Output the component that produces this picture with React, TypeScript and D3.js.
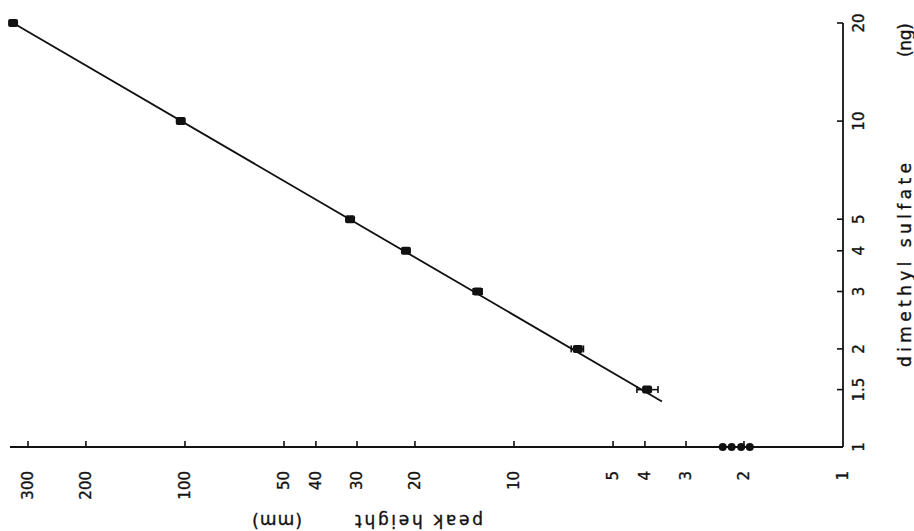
import React from "react";
import * as d3 from "d3";

// dimethyl sulfate amounts (ng) and measured peak heights (mm)
const ngValues = [20, 10, 5, 4, 3, 2, 1.5];
const peakHeights = [333, 103, 31.5, 21.3, 12.9, 6.4, 3.94];
const errLow = [NaN, NaN, NaN, NaN, 12.5, 6.15, 3.65];
const errHigh = [NaN, NaN, NaN, NaN, 13.3, 6.7, 4.23];
// points at 1 ng
const oneNgPeaks = [2.32, 2.18, 2.04, 1.92];
// fitted line end points
const fitPeak = [333, 3.55];
const fitNg = [20, 1.38];
// ticks
const xTicks = [300, 200, 100, 50, 40, 30, 20, 10, 5, 4, 3, 2, 1];
const yTicks = [20, 10, 5, 4, 3, 2, 1.5, 1];

const W = 914;
const H = 531;
const FONT = "DejaVu Sans, sans-serif";

export default function App() {
  const x = d3.scaleLog().domain([1, 300]).range([843, 28]);
  const y = d3.scaleLog().domain([1, 20]).range([447, 23]);
  const line = d3
    .line<number>()
    .x((_, i) => x(fitPeak[i]))
    .y((_, i) => y(fitNg[i]));
  const xAxisY = y(1);
  const yAxisX = x(1);
  const txt = { fill: "#111", stroke: "#111", strokeWidth: 0.35 };
  return (
    <svg
      width={W}
      height={H}
      style={{ position: "absolute", left: 0, top: 0, background: "#fff" }}
      fontFamily={FONT}
    >
      <rect x={0} y={0} width={W} height={H} fill="#fff" />
      {/* axes */}
      <line x1={10} x2={yAxisX} y1={xAxisY} y2={xAxisY} stroke="#111" strokeWidth={1.8} />
      <line x1={yAxisX} x2={yAxisX} y1={xAxisY} y2={y(20)} stroke="#111" strokeWidth={1.8} />
      {xTicks.map((t) => (
        <g key={"xt" + t}>
          {t !== 1 && (
            <line x1={x(t)} x2={x(t)} y1={xAxisY} y2={xAxisY - 6} stroke="#111" strokeWidth={1.6} />
          )}
          <text
            transform={`translate(${x(t)},471) rotate(-90)`}
            textAnchor="end"
            dy="0.35em"
            fontSize={15}
            {...txt}
          >
            {t}
          </text>
        </g>
      ))}
      {yTicks.map((t) => (
        <g key={"yt" + t}>
          {t !== 1 && (
            <line x1={yAxisX} x2={yAxisX - 6} y1={y(t)} y2={y(t)} stroke="#111" strokeWidth={1.6} />
          )}
          <text
            transform={`translate(864,${y(t)}) rotate(-90)`}
            textAnchor="middle"
            fontSize={15}
            {...txt}
          >
            {t}
          </text>
        </g>
      ))}
      {/* axis titles */}
      <text
        transform={`translate(911,265) rotate(-90)`}
        textAnchor="middle"
        fontSize={17}
        textLength={204}
        lengthAdjust="spacing"
        {...txt}
      >
        dimethyl sulfate
      </text>
      <text
        transform={`translate(911,40) rotate(-90)`}
        textAnchor="middle"
        fontSize={17}
        textLength={34}
        lengthAdjust="spacing"
        {...txt}
      >
        (ng)
      </text>
      <text
        transform={`translate(419,515) rotate(180)`}
        textAnchor="middle"
        fontSize={17}
        textLength={128}
        lengthAdjust="spacing"
        {...txt}
      >
        peak height
      </text>
      <text
        transform={`translate(277,515) rotate(180)`}
        textAnchor="middle"
        fontSize={17}
        textLength={50}
        lengthAdjust="spacing"
        {...txt}
      >
        (mm)
      </text>
      {/* fitted line */}
      <path d={line(fitPeak) || ""} fill="none" stroke="#111" strokeWidth={1.8} />
      {/* error bars */}
      {ngValues.map((v, i) =>
        isNaN(errLow[i]) ? null : (
          <g key={"e" + i} stroke="#111" strokeWidth={1.6}>
            <line x1={x(errLow[i])} x2={x(errHigh[i])} y1={y(v)} y2={y(v)} />
            <line x1={x(errLow[i])} x2={x(errLow[i])} y1={y(v) - 3.5} y2={y(v) + 3.5} />
            <line x1={x(errHigh[i])} x2={x(errHigh[i])} y1={y(v) - 3.5} y2={y(v) + 3.5} />
          </g>
        )
      )}
      {/* data markers */}
      {ngValues.map((v, i) => (
        <rect
          key={"p" + i}
          x={x(peakHeights[i]) - 5}
          y={y(v) - 4}
          width={10}
          height={8}
          rx={2}
          fill="#111"
        />
      ))}
      {oneNgPeaks.map((p, i) => (
        <circle key={"o" + i} cx={x(p)} cy={y(1)} r={4} fill="#111" />
      ))}
    </svg>
  );
}
